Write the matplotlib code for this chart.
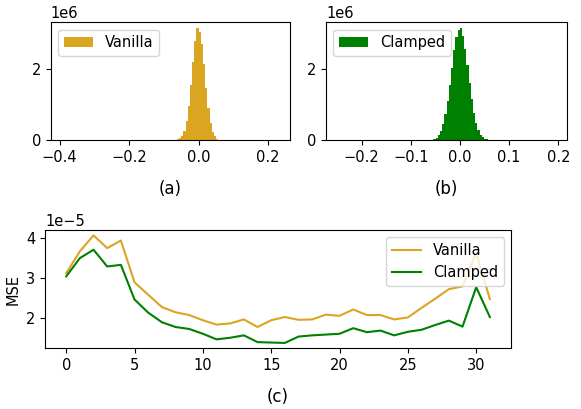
import numpy as np
import matplotlib
matplotlib.use("Agg")
import matplotlib.pyplot as plt
from matplotlib.ticker import MultipleLocator

plt.rcParams["font.size"] = 10.5

# ---- histogram data ----
vanilla_range = (-0.394, 0.232)
vanilla_counts = ([1] + [0] * 52 +
                  [15e3, 43e3, 111e3, 257e3, 532e3, 960e3, 1.55e6, 2.20e6, 2.79e6,
                   3.16e6, 3.05e6, 2.72e6, 2.13e6, 1.47e6, 895e3, 488e3, 237e3,
                   100e3, 38e3, 12e3] +
                  [0] * 26 + [1])

clamped_range = (-0.25, 0.196)
clamped_counts = ([1] + [0] * 42 +
                  [14e3, 32e3, 68e3, 138e3, 255e3, 446e3, 727e3, 1.10e6, 1.56e6,
                   2.05e6, 2.54e6, 2.93e6, 3.12e6, 3.18e6, 2.96e6, 2.59e6, 2.12e6,
                   1.61e6, 1.15e6, 764e3, 475e3, 271e3, 149e3, 74e3, 35e3, 15e3] +
                  [0] * 30 + [1])

# ---- MSE per layer ----
layers = list(range(32))
mse_vanilla = [3.12, 3.67, 4.07, 3.75, 3.94, 2.89, 2.58, 2.27, 2.14, 2.07,
               1.94, 1.83, 1.86, 1.96, 1.77, 1.94, 2.02, 1.95, 1.96, 2.08,
               2.05, 2.21, 2.07, 2.07, 1.96, 2.01, 2.25, 2.48, 2.72, 2.79,
               3.63, 2.47]
mse_clamped = [3.04, 3.50, 3.71, 3.29, 3.33, 2.46, 2.13, 1.89, 1.77, 1.72,
               1.60, 1.46, 1.50, 1.56, 1.39, 1.38, 1.37, 1.53, 1.56, 1.58,
               1.60, 1.74, 1.64, 1.68, 1.56, 1.65, 1.70, 1.82, 1.93, 1.78,
               2.77, 2.02]
mse_scale = 1e-5

GOLD = "#DAA520"
GREEN = "#008000"

fig = plt.figure(figsize=(5.81, 4.09), dpi=100)
ax_a = fig.add_axes([0.0873, 0.6577, 0.4119, 0.2878])
ax_b = fig.add_axes([0.5611, 0.6577, 0.4153, 0.2878])
ax_c = fig.add_axes([0.0775, 0.1484, 0.8021, 0.2892])

edges_a = np.linspace(vanilla_range[0], vanilla_range[1], len(vanilla_counts) + 1)
centers_a = 0.5 * (edges_a[:-1] + edges_a[1:])
ax_a.hist(centers_a, bins=edges_a, weights=vanilla_counts, color=GOLD, label="Vanilla")
ax_a.legend(loc="upper left")
ax_a.set_xlabel("(a)", fontsize=12, labelpad=11)
ax_a.yaxis.set_major_locator(MultipleLocator(2e6))

edges_b = np.linspace(clamped_range[0], clamped_range[1], len(clamped_counts) + 1)
centers_b = 0.5 * (edges_b[:-1] + edges_b[1:])
ax_b.hist(centers_b, bins=edges_b, weights=clamped_counts, color=GREEN, label="Clamped")
ax_b.legend(loc="upper left")
ax_b.set_xlabel("(b)", fontsize=12, labelpad=11)
ax_b.yaxis.set_major_locator(MultipleLocator(2e6))
ax_b.xaxis.set_major_locator(MultipleLocator(0.1))

ax_c.plot(layers, np.array(mse_vanilla) * mse_scale, color=GOLD, label="Vanilla")
ax_c.plot(layers, np.array(mse_clamped) * mse_scale, color=GREEN, label="Clamped")
ax_c.set_ylabel("MSE")
ax_c.set_xlabel("(c)", fontsize=12, labelpad=11)
ax_c.legend(loc="upper right")

fig.savefig("out.png", dpi=100)
